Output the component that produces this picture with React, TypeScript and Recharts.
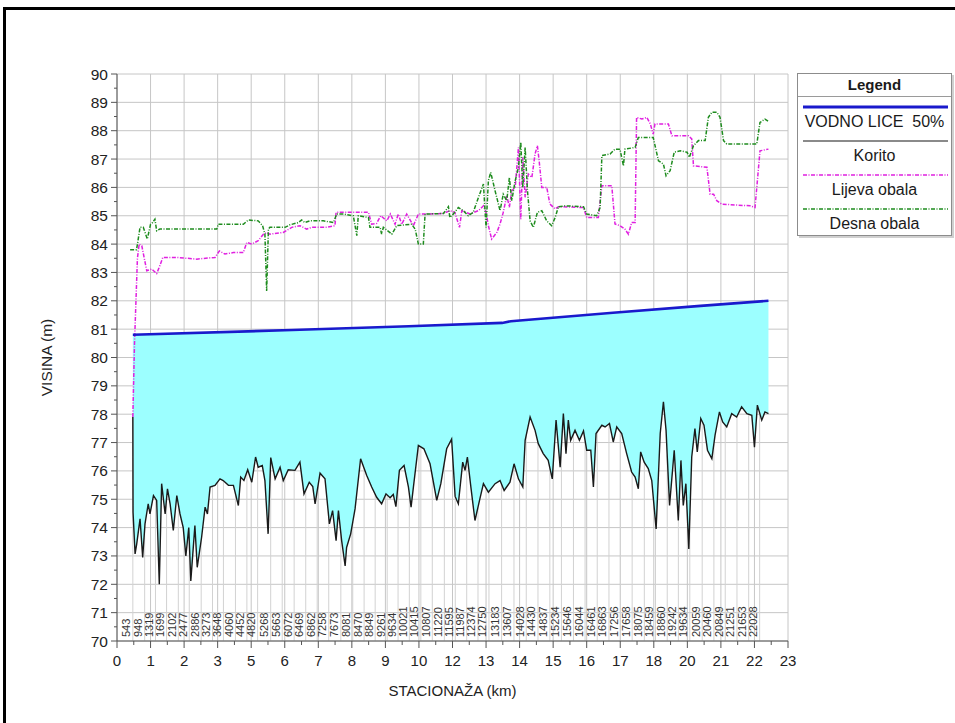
import React from 'react';
import {
  ComposedChart,
  Line,
  Area,
  XAxis,
  YAxis,
  CartesianGrid,
  ReferenceLine,
  Scatter,
  Label,
} from 'recharts';

// ---------------- DATA ----------------
const koritoKm = [
  0.543, 0.55, 0.62, 0.675, 0.79, 0.88, 0.96, 1.07, 1.13, 1.25, 1.36, 1.45, 1.53, 1.65, 1.73, 1.82, 1.93,
  2.05, 2.16, 2.27, 2.36, 2.46, 2.53, 2.67, 2.75, 2.9, 3.02, 3.1, 3.19, 3.36, 3.53, 3.64, 3.82, 3.99, 4.16,
  4.24, 4.35, 4.48, 4.62, 4.75, 4.84, 4.98, 5.07, 5.18, 5.27, 5.42, 5.59, 5.7, 5.87, 6.1, 6.27, 6.41, 6.59,
  6.71, 6.79, 6.96, 7.13, 7.28, 7.39, 7.51, 7.59, 7.7, 7.82, 7.87, 8.01, 8.16, 8.35, 8.56, 8.73, 8.9, 9.07,
  9.22, 9.36, 9.47, 9.56, 9.68, 9.84, 9.99, 10.08, 10.16, 10.33, 10.52, 10.73, 10.96, 11.1, 11.3, 11.47,
  11.59, 11.7, 11.85, 11.93, 12.01, 12.13, 12.27, 12.44, 12.56, 12.73, 12.96, 13.13, 13.27, 13.47, 13.61,
  13.76, 13.91, 13.99, 14.16, 14.33, 14.44, 14.61, 14.78, 14.92, 15.05, 15.19, 15.3, 15.39, 15.47, 15.55,
  15.7, 15.85, 15.99, 16.1, 16.24, 16.33, 16.42, 16.62, 16.73, 16.88, 17.01, 17.13, 17.3, 17.47, 17.64,
  17.76, 17.87, 17.95, 18.07, 18.21, 18.33, 18.48, 18.62, 18.73, 18.82, 18.94, 19.1, 19.24, 19.33, 19.41,
  19.5, 19.6, 19.7, 19.81, 19.89, 20.01, 20.12, 20.24, 20.39, 20.5, 20.65, 20.76, 20.9, 21.07, 21.24,
  21.41, 21.59, 21.76, 21.85, 21.95, 22.1, 22.21, 22.33,
];
const koritoZ = [
  77.9, 74.54, 73.07, 73.42, 74.31, 72.95, 74.13, 74.84, 74.48, 75.13, 74.96, 72.0, 75.55, 74.48, 75.37, 74.84, 73.9,
  75.13, 74.48, 74.0, 73.0, 74.0, 72.12, 74.07, 72.6, 73.66, 74.72, 74.48, 75.43, 75.49, 75.72, 75.66, 75.49, 75.49, 74.78,
  75.78, 75.66, 76.04, 75.6, 76.49, 76.13, 76.19, 75.66, 73.78, 76.47, 75.72, 76.13, 75.66, 76.04, 76.02, 76.31, 75.19, 75.6,
  75.45, 74.84, 75.92, 75.72, 74.13, 74.6, 73.54, 74.6, 73.54, 72.65, 73.3, 73.78, 74.66, 76.43, 75.84, 75.43, 75.07, 74.84,
  75.19, 75.05, 75.17, 74.74, 76.02, 76.19, 75.43, 74.72, 75.43, 76.9, 76.78, 76.25, 74.96, 75.55, 76.78, 77.12,
  75.1, 74.84, 76.31, 76.02, 76.49, 75.43, 74.25, 75.02, 75.55, 75.25, 75.55, 75.66, 75.31, 75.6, 76.25,
  75.72, 75.43, 77.08, 77.9, 77.43, 76.96, 76.61, 76.37, 75.72, 77.79, 76.13, 78.02, 76.61, 77.79, 77.08,
  77.43, 77.08, 77.41, 76.73, 76.73, 75.43, 77.32, 77.61, 77.55, 77.67, 77.02, 77.55, 77.32, 76.61, 75.96,
  75.78, 75.37, 76.67, 76.31, 76.08, 75.66, 73.95, 77.32, 78.44, 77.43, 74.78, 76.73, 74.25, 76.37, 74.78,
  75.55, 73.25, 76.49, 77.49, 76.67, 77.85, 77.61, 76.73, 76.43, 77.26, 78.08, 77.73, 77.55, 78.02, 77.9,
  78.26, 78.02, 77.96, 76.84, 78.32, 77.79, 78.08, 78.02,
];

const waterKm = [0.543, 6, 10, 13.2, 13.5, 17, 20, 22.33];
const waterZ = [80.8, 80.97, 81.1, 81.22, 81.28, 81.58, 81.82, 82.0];

const lijevaKm = [
  0.543, 0.6, 0.7, 0.76, 0.85, 1.02, 1.19, 1.36, 1.47, 1.57, 2.05, 2.73, 3.36, 3.51, 3.7, 3.99, 4.33, 4.45,
  4.62, 4.84, 5.02, 5.13, 5.24, 5.7, 5.99, 6.27, 6.5, 6.67, 7.19, 7.47, 7.51, 8.62, 8.73, 8.9, 9.04, 9.25,
  9.37, 9.53, 9.64, 9.76, 9.93, 10.16, 10.33, 10.56, 11.19, 11.41, 11.58, 11.74, 11.82, 12.1, 12.39, 12.56,
  12.65, 12.73, 12.84, 13.02, 13.13, 13.24, 13.36, 13.45, 13.53, 13.65, 13.76, 13.84, 13.91, 13.99, 14.1,
  14.22, 14.33, 14.41, 14.47, 14.56, 14.73, 14.84, 15.02, 15.13, 15.99, 16.1, 16.5, 16.62, 16.96, 17.07,
  17.24, 17.41, 17.53, 17.64, 17.76, 17.81, 17.99, 18.16, 18.28, 18.38, 18.44, 18.9, 19.02, 19.59, 19.7,
  19.76, 20.22, 20.33, 20.45, 20.56, 20.73, 21.7, 21.87, 22.04, 22.33,
];
const lijevaZ = [
  77.9, 80.5, 83.5, 84.0, 83.94, 83.06, 83.12, 82.96, 83.24, 83.53, 83.53, 83.47, 83.53, 83.76, 83.65, 83.7, 83.7, 84.06,
  84.0, 84.12, 84.35, 84.41, 84.35, 84.41, 84.59, 84.65, 84.53, 84.59, 84.59, 84.65, 85.12, 85.12, 84.7, 84.73, 85.0, 84.82,
  85.06, 84.7, 85.06, 84.7, 85.06, 84.65, 85.06, 85.06, 85.08, 85.18, 85.12, 84.59, 85.18, 85.06, 85.18, 85.35,
  85.12, 84.65, 84.18, 84.41, 84.71, 85.12, 85.71, 85.3, 85.88, 86.0, 87.41, 84.88, 87.06, 85.65, 86.47,
  86.35, 87.18, 87.47, 86.94, 86.0, 86.0, 85.41, 85.24, 85.32, 85.29, 84.94, 84.94, 86.06, 86.06, 84.71,
  84.65, 84.53, 84.35, 84.76, 84.76, 88.47, 88.41, 88.47, 88.24, 87.88, 88.24, 88.24, 87.82, 87.82, 87.71,
  86.76, 86.71, 85.76, 85.76, 85.53, 85.41, 85.35, 85.29, 87.29, 87.35,
];

const desnaKm = [
  0.45, 0.67, 0.79, 0.9, 1.04, 1.15, 1.22, 1.3, 1.36, 1.47, 2.27, 3.42, 3.47, 4.33, 4.5, 4.84, 4.99, 5.07,
  5.13, 5.19, 5.24, 5.76, 5.93, 6.22, 6.33, 6.44, 6.62, 7.07, 7.42, 7.53, 7.76, 8.1, 8.22, 8.27, 8.62, 8.67,
  9.02, 9.07, 9.13, 9.42, 9.59, 10.1, 10.22, 10.33, 10.5, 10.56, 11.19, 11.36, 11.41, 11.53, 11.7, 11.87,
  12.04, 12.21, 12.39, 12.56, 12.65, 12.73, 12.81, 12.96, 13.13, 13.24, 13.36, 13.45, 13.53, 13.65, 13.76,
  13.84, 13.91, 13.99, 14.07, 14.16, 14.27, 14.41, 14.56, 14.73, 14.9, 15.02, 15.13, 15.36, 15.99, 16.1,
  16.44, 16.56, 16.62, 16.9, 17.07, 17.24, 17.36, 17.41, 17.76, 17.87, 18.38, 18.56, 18.73, 18.82, 18.96,
  19.1, 19.31, 19.54, 19.62, 19.76, 19.93, 20.16, 20.27, 20.39, 20.56, 20.67, 20.79, 20.9, 21.93, 22.04,
  22.21, 22.33,
];
const desnaZ = [
  83.8, 83.8, 84.59, 84.59, 84.18, 84.7, 84.76, 84.88, 84.47, 84.53, 84.53, 84.53, 84.7, 84.7, 84.85, 84.82, 84.65, 84.35,
  82.35, 84.53, 84.59, 84.59, 84.68, 84.76, 84.85, 84.76, 84.82, 84.82, 84.76, 85.06, 85.06, 85.0, 84.3, 85.0, 84.94, 84.59,
  84.59, 84.35, 84.59, 84.35, 84.65, 84.7, 84.53, 84.0, 84.0, 85.06, 85.08, 85.32, 84.94, 85.06, 85.29, 85.18,
  85.0, 85.12, 85.65, 86.12, 84.59, 86.24, 86.53, 85.88, 85.18, 85.76, 85.53, 86.35, 85.53, 86.24, 86.71,
  87.59, 86.0, 87.41, 85.88, 84.82, 84.59, 85.12, 85.18, 84.82, 84.65, 84.94, 85.32, 85.35, 85.32, 85.06,
  85.0, 85.29, 87.12, 87.18, 87.35, 87.35, 86.76, 87.35, 87.41, 87.76, 87.76, 86.94, 86.82, 86.41, 86.59,
  87.24, 87.29, 87.24, 87.06, 87.47, 87.65, 87.65, 88.47, 88.65, 88.65, 88.47, 87.65, 87.53, 87.53, 88.29,
  88.41, 88.33,
];

const stationsM = [
  543, 948, 1319, 1699, 2102, 2477, 2886, 3273, 3648, 4060, 4452, 4820, 5268, 5663, 6072, 6469, 6862, 7258,
  7673, 8081, 8470, 8849, 9261, 9634, 10021, 10415, 10807, 11220, 11595, 11987, 12374, 12750, 13183, 13607,
  14028, 14430, 14837, 15234, 15646, 16044, 16461, 16863, 17256, 17658, 18075, 18459, 18860, 19242, 19634,
  20059, 20460, 20849, 21251, 21653, 22028,
];

const xTickLabels = ['0', '1', '2', '3', '5', '6', '7', '8', '9', '10', '12', '13', '14', '15', '16', '17', '18', '20', '21', '22', '23'];
const yTickLabels = ['70', '71', '72', '73', '74', '75', '76', '77', '78', '79', '80', '81', '82', '83', '84', '85', '86', '87', '88', '89', '90'];

const legendItems = [
  { name: 'VODNO LICE  50%', color: '#1a1acc', width: 3, dash: '' },
  { name: 'Korito', color: '#8a8a8a', width: 2, dash: '' },
  { name: 'Lijeva obala', color: '#e020e0', width: 1.6, dash: '4 1.5 1 1.5' },
  { name: 'Desna obala', color: '#1e8c1e', width: 1.6, dash: '4 1.5 1 1.5' },
];

// ---------------- DERIVED TABLES ----------------
const X_MAX = 23;
const xStep = X_MAX / (xTickLabels.length - 1);
const xMajor = xTickLabels.map((_, i) => i * xStep);
const xTicks: number[] = [];
xMajor.forEach((v, i) => {
  xTicks.push(v);
  if (i < xMajor.length - 1) xTicks.push(v + xStep / 2);
});
const yMajor = yTickLabels.map((s) => Number(s));
const yTicks: number[] = [];
yMajor.forEach((v, i) => {
  yTicks.push(v);
  if (i < yMajor.length - 1) yTicks.push(v + 0.5);
});

function interp(xs: number[], ys: number[], x: number): number {
  if (x <= xs[0]) return ys[0];
  for (let i = 1; i < xs.length; i++) {
    if (x <= xs[i]) {
      const t = (x - xs[i - 1]) / (xs[i] - xs[i - 1]);
      return ys[i - 1] + t * (ys[i] - ys[i - 1]);
    }
  }
  return ys[ys.length - 1];
}

const koritoData = koritoKm.map((x, i) => ({ x, z: koritoZ[i] }));
const waterData = waterKm.map((x, i) => ({ x, z: waterZ[i] }));
const lijevaData = lijevaKm.map((x, i) => ({ x, z: lijevaZ[i] }));
const desnaData = desnaKm.map((x, i) => ({ x, z: desnaZ[i] }));
const bandData = koritoKm.map((x, i) => ({ x, band: [koritoZ[i], interp(waterKm, waterZ, x)] }));
const stationData = stationsM.map((m) => ({ x: m / 1000, y: 70, label: String(m) }));

const FONT = '"Liberation Sans", Arial, Helvetica, sans-serif';

const XTick = (props: any) => {
  const { x, y, payload } = props;
  const v = payload.value;
  const idx = Math.round(v / xStep);
  const major = Math.abs(v - idx * xStep) < 1e-6;
  return (
    <g>
      <line x1={x} x2={x} y1={y} y2={y + (major ? 7 : 4)} stroke="#555" strokeWidth={1} />
      {major && (
        <text x={x} y={y + 25} textAnchor="middle" fontSize={15} fill="#222" fontFamily={FONT}>
          {xTickLabels[idx]}
        </text>
      )}
    </g>
  );
};

const YTick = (props: any) => {
  const { x, y, payload } = props;
  const v = payload.value;
  const major = Math.abs(v - Math.round(v)) < 1e-6;
  const li = yMajor.indexOf(Math.round(v));
  return (
    <g>
      <line x1={x} x2={x - (major ? 6 : 3)} y1={y} y2={y} stroke="#555" strokeWidth={1} />
      {major && (
        <text x={x - 9} y={y + 5.5} textAnchor="end" fontSize={15.5} fill="#222" fontFamily={FONT}>
          {yTickLabels[li]}
        </text>
      )}
    </g>
  );
};

const StationLabel = (props: any) => {
  const { cx, cy, payload } = props;
  if (cx == null || cy == null) return <g />;
  const tx = cx - 2.5;
  const ty = cy - 4;
  return (
    <text
      x={tx}
      y={ty}
      transform={`rotate(-90 ${tx} ${ty})`}
      fontSize={11}
      fill="#333"
      fontFamily={FONT}
    >
      {payload.label}
    </text>
  );
};

const XTitle = (props: any) => {
  const vb = props.viewBox || { x: 117, y: 641, width: 671, height: 82 };
  return (
    <text x={vb.x + vb.width / 2} y={vb.y + 55} textAnchor="middle" fontSize={15} fill="#222" fontFamily={FONT}>
      STACIONAŽA (km)
    </text>
  );
};

const YTitle = (props: any) => {
  const vb = props.viewBox || { x: 0, y: 74, width: 117, height: 567 };
  const cx = 46;
  const cy = vb.y + vb.height / 2;
  return (
    <text
      x={cx}
      y={cy}
      transform={`rotate(-90 ${cx} ${cy})`}
      textAnchor="middle"
      dominantBaseline="central"
      fontSize={15.5}
      fill="#222"
      fontFamily={FONT}
    >
      VISINA (m)
    </text>
  );
};

const LegendBox = () => (
  <div
    style={{
      position: 'absolute',
      left: 797,
      top: 73,
      width: 155,
      height: 163,
      boxSizing: 'border-box',
      border: '1px solid #8c8c8c',
      boxShadow: '2px 2px 0 #d0d0d0',
      background: '#fff',
      fontFamily: FONT,
      color: '#1a1a1a',
    }}
  >
    <div
      style={{
        height: 22,
        borderBottom: '1px solid #9a9a9a',
        textAlign: 'center',
        fontWeight: 'bold',
        fontSize: 15,
        lineHeight: '22px',
      }}
    >
      Legend
    </div>
    {legendItems.map((it) => (
      <div key={it.name} style={{ height: 34, position: 'relative' }}>
        <svg width={145} height={6} style={{ position: 'absolute', left: 5, top: 7 }}>
          <line x1={0} x2={145} y1={3} y2={3} stroke={it.color} strokeWidth={it.width} strokeDasharray={it.dash || undefined} />
        </svg>
        <div
          style={{
            position: 'absolute',
            left: 0,
            right: 0,
            top: 16,
            textAlign: 'center',
            fontSize: 16,
            lineHeight: '18px',
            whiteSpace: 'pre',
          }}
        >
          {it.name}
        </div>
      </div>
    ))}
  </div>
);

export default function App() {
  return (
    <div style={{ position: 'absolute', left: 0, top: 0, width: 955, height: 723, overflow: 'hidden', background: '#fff' }}>
      <div
        style={{
          position: 'absolute',
          left: 3,
          top: 7,
          width: 1000,
          height: 800,
          border: '3px solid #000',
          boxSizing: 'border-box',
        }}
      />
      <div style={{ position: 'absolute', left: 0, top: 0 }}>
        <ComposedChart width={955} height={723} margin={{ top: 74, right: 167, bottom: 0, left: 0 }}>
          <CartesianGrid stroke="#c6c6c6" strokeWidth={1} verticalValues={xMajor} horizontalValues={yMajor} />
          <XAxis
            dataKey="x"
            type="number"
            domain={[0, X_MAX]}
            ticks={xTicks}
            interval={0}
            tickSize={0}
            tickMargin={0}
            tick={<XTick />}
            tickLine={false}
            axisLine={{ stroke: '#555' }}
            height={82}
            allowDataOverflow
          >
            <Label content={<XTitle />} />
          </XAxis>
          <YAxis
            type="number"
            domain={[70, 90]}
            ticks={yTicks}
            interval={0}
            tickSize={0}
            tickMargin={0}
            tick={<YTick />}
            tickLine={false}
            axisLine={{ stroke: '#555' }}
            width={117}
            allowDataOverflow
          >
            <Label content={<YTitle />} />
          </YAxis>
          <Area
            data={bandData}
            dataKey="band"
            type="linear"
            stroke="none"
            fill="#9cffff"
            fillOpacity={1}
            isAnimationActive={false}
          />
          {stationData.map((s) => (
            <ReferenceLine
              key={s.label}
              segment={[
                { x: s.x, y: 70 },
                { x: s.x, y: interp(koritoKm, koritoZ, s.x) },
              ]}
              stroke="#d2d2d2"
              strokeWidth={1}
            />
          ))}
          <Line data={koritoData} dataKey="z" type="linear" stroke="#1a1a1a" strokeWidth={1.4} dot={false} isAnimationActive={false} />
          <Line
            data={lijevaData}
            dataKey="z"
            type="linear"
            stroke="#e020e0"
            strokeWidth={1.5}
            strokeDasharray="4 1.5 1 1.5"
            dot={false}
            isAnimationActive={false}
          />
          <Line
            data={desnaData}
            dataKey="z"
            type="linear"
            stroke="#1e8c1e"
            strokeWidth={1.5}
            strokeDasharray="4 1.5 1 1.5"
            dot={false}
            isAnimationActive={false}
          />
          <Line data={waterData} dataKey="z" type="linear" stroke="#1a1acc" strokeWidth={2.6} dot={false} isAnimationActive={false} />
          <Scatter data={stationData} dataKey="y" shape={<StationLabel />} isAnimationActive={false} />
        </ComposedChart>
      </div>
      <LegendBox />
    </div>
  );
}
